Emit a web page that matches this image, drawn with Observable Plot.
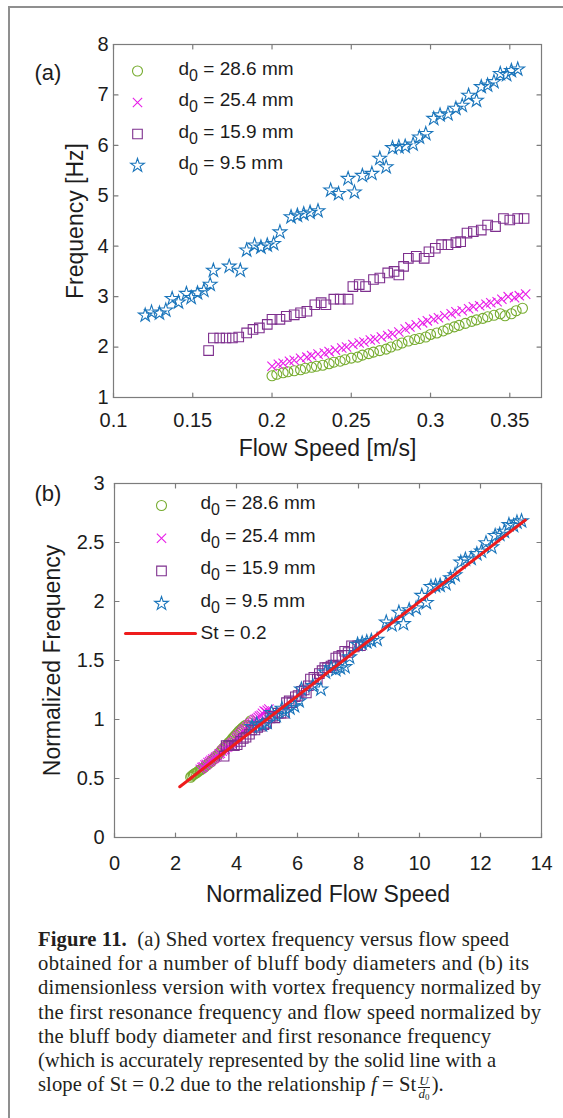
<!DOCTYPE html>
<html><head><meta charset="utf-8">
<script src="https://cdn.jsdelivr.net/npm/d3@7"></script>
<script src="https://cdn.jsdelivr.net/npm/@observablehq/plot@0.6"></script>
<style>
html,body{margin:0;padding:0;background:#fff;}
#page{position:relative;width:563px;height:1118px;overflow:hidden;background:#fff;}
#border{position:absolute;left:8px;top:6px;right:-10px;bottom:-10px;border-left:2px solid #8f8f8f;border-top:2px solid #8f8f8f;pointer-events:none;}
#panelA{position:absolute;left:0;top:0;width:563px;}
#panelB{position:absolute;left:0;top:462px;width:563px;}
#caption{position:absolute;left:38px;top:927px;font-family:"Liberation Serif","DejaVu Serif",serif;font-size:20.6px;line-height:24.2px;color:#231f20;}
#caption div{white-space:nowrap;width:max-content;}
.frac{display:inline-block;vertical-align:-0.5em;text-align:center;font-size:13px;line-height:12px;margin:0 2px;letter-spacing:0;}
.frac .num{display:block;border-bottom:1px solid #231f20;padding:0 1px;}
.frac .den{display:block;}
.frac sub{font-size:9px;vertical-align:-2px;}
</style></head>
<body>
<div id="page">
  <div id="panelA"></div>
  <div id="panelB"></div>
  <div id="caption">
    <div><b>Figure 11.</b>&nbsp; (a) Shed vortex frequency versus flow speed</div>
    <div>obtained for a number of bluff body diameters and (b) its</div>
    <div>dimensionless version with vortex frequency normalized by</div>
    <div>the first resonance frequency and flow speed normalized by</div>
    <div>the bluff body diameter and first resonance frequency</div>
    <div>(which is accurately represented by the solid line with a</div>
    <div>slope of St = 0.2 due to the relationship <i>f</i> = St<span class="frac"><span class="num"><i>U</i></span><span class="den"><i>d</i><sub>0</sub></span></span>).</div>
  </div>
  <div id="border"></div>
</div>
<script>
// ---------- data ----------
const diametersMm = [28.6, 25.4, 15.9, 9.5];
const legendLabels = ["d0 = 28.6 mm", "d0 = 25.4 mm", "d0 = 15.9 mm", "d0 = 9.5 mm"];
const lineLabel = "St = 0.2";

// d0 = 28.6 mm (circles)
const circleSpeed = [0.200,0.203,0.207,0.210,0.214,0.218,0.221,0.225,0.228,0.232,0.236,0.239,0.243,0.246,0.250,0.254,0.257,0.261,0.264,0.268,0.272,0.275,0.279,0.282,0.286,0.290,0.293,0.297,0.300,0.304,0.308,0.311,0.315,0.318,0.322,0.326,0.329,0.333,0.336,0.340,0.344,0.347,0.351,0.354,0.358];
const circleFreq  = [1.43,1.46,1.49,1.51,1.53,1.55,1.58,1.60,1.62,1.64,1.67,1.70,1.72,1.75,1.78,1.80,1.84,1.87,1.90,1.93,1.96,2.00,2.04,2.08,2.12,2.15,2.17,2.20,2.25,2.28,2.32,2.36,2.40,2.43,2.47,2.51,2.54,2.57,2.60,2.63,2.66,2.62,2.66,2.72,2.77];
// d0 = 25.4 mm (crosses)
const crossSpeed = [0.200,0.204,0.207,0.211,0.214,0.218,0.222,0.225,0.229,0.233,0.236,0.240,0.244,0.247,0.251,0.255,0.258,0.262,0.265,0.269,0.273,0.276,0.280,0.284,0.287,0.291,0.295,0.298,0.302,0.305,0.309,0.313,0.316,0.320,0.324,0.327,0.331,0.335,0.338,0.342,0.345,0.349,0.353,0.356,0.360];
const crossFreq  = [1.62,1.66,1.68,1.72,1.74,1.78,1.80,1.83,1.86,1.88,1.91,1.94,1.98,2.00,2.05,2.08,2.10,2.14,2.16,2.20,2.23,2.26,2.30,2.36,2.40,2.44,2.48,2.52,2.55,2.58,2.62,2.66,2.70,2.72,2.76,2.80,2.82,2.85,2.88,2.90,2.95,3.00,2.98,3.02,3.05];
// d0 = 15.9 mm (squares)
const squareSpeed = [0.160,0.163,0.167,0.171,0.175,0.179,0.184,0.188,0.192,0.197,0.200,0.205,0.209,0.214,0.218,0.222,0.227,0.231,0.234,0.239,0.243,0.248,0.251,0.255,0.259,0.264,0.268,0.273,0.277,0.280,0.283,0.286,0.291,0.296,0.299,0.303,0.307,0.311,0.316,0.319,0.323,0.327,0.332,0.336,0.341,0.346,0.350,0.355,0.359];
const squareFreq  = [1.93,2.18,2.18,2.18,2.18,2.20,2.28,2.35,2.38,2.45,2.55,2.55,2.61,2.64,2.68,2.71,2.84,2.88,2.84,2.95,2.95,2.95,3.20,3.24,3.20,3.34,3.37,3.47,3.50,3.43,3.60,3.76,3.80,3.76,3.89,3.96,4.03,4.03,4.07,4.09,4.26,4.29,4.32,4.42,4.39,4.55,4.52,4.55,4.55];
// d0 = 9.5 mm (stars)
const starSpeed = [0.120,0.124,0.129,0.133,0.137,0.141,0.146,0.149,0.153,0.157,0.161,0.163,0.173,0.180,0.184,0.189,0.193,0.197,0.201,0.205,0.212,0.216,0.220,0.224,0.229,0.237,0.242,0.248,0.252,0.257,0.263,0.268,0.272,0.276,0.280,0.284,0.289,0.293,0.297,0.302,0.306,0.311,0.316,0.320,0.324,0.329,0.332,0.336,0.340,0.344,0.348,0.351,0.355];
const starFreq  = [2.63,2.69,2.67,2.73,2.96,2.89,3.06,2.98,3.07,3.12,3.24,3.52,3.60,3.52,3.92,4.02,3.98,4.02,4.05,4.28,4.58,4.61,4.64,4.67,4.70,5.11,5.04,5.34,5.07,5.40,5.44,5.74,5.57,5.95,5.97,5.98,6.02,6.16,6.23,6.53,6.60,6.62,6.73,6.79,6.99,6.89,7.16,7.19,7.26,7.42,7.40,7.48,7.51];

// first resonance frequency used for normalisation in panel (b)
const firstResonanceHz = 2.8;
// St = 0.2 line end points (panel b)
const stLineSpeed = [2.14, 13.47];
const stLineFreq  = [0.43, 2.69];

// ticks
const speedTicksA = [0.1, 0.15, 0.2, 0.25, 0.3, 0.35];
const freqTicksA  = [1, 2, 3, 4, 5, 6, 7, 8];
const speedTicksB = [0, 2, 4, 6, 8, 10, 12, 14];
const freqTicksB  = [0, 0.5, 1, 1.5, 2, 2.5, 3];

// ---------- styling ----------
const FONT = "'Liberation Sans', Arial, Helvetica, sans-serif";
const AXIS = "#7c7c7c";
const TEXT = "#1c1c1c";
const RED = "#ee1c1c";
const seriesStyle = [
  {symbol: "circle", color: "#77AC30", r: 5},
  {symbol: "times",  color: "#E81EE8", r: 4.3},
  {symbol: "square", color: "#7E2F8E", r: 5.4},
  {symbol: "star",   color: "#1a75bb", r: 4.3}
];
const speeds = [circleSpeed, crossSpeed, squareSpeed, starSpeed];
const freqs  = [circleFreq, crossFreq, squareFreq, starFreq];

const seriesRows = speeds.map((sp, i) => sp.map((s, j) => {
  const f = freqs[i][j];
  const d0 = diametersMm[i] / 1000;
  return {speed: s, freq: f, nSpeed: s / (d0 * firstResonanceHz), nFreq: f / firstResonanceHz};
}));
const stRows = stLineSpeed.map((x, i) => ({x, y: stLineFreq[i]}));

const tickShape = {draw(ctx, l) { ctx.moveTo(0, 0); ctx.lineTo(0, -l); }};
function boxTicks(xTicks, yTicks) {
  const o = {stroke: AXIS, strokeWidth: 1.2, length: 4.5, anchor: "start", shape: tickShape};
  return [
    Plot.vector(xTicks, {...o, x: d => d, frameAnchor: "bottom", rotate: 0}),
    Plot.vector(xTicks, {...o, x: d => d, frameAnchor: "top", rotate: 180}),
    Plot.vector(yTicks, {...o, y: d => d, frameAnchor: "left", rotate: 90}),
    Plot.vector(yTicks, {...o, y: d => d, frameAnchor: "right", rotate: -90})
  ];
}
function dataMarks(xKey, yKey) {
  return seriesRows.map((rows, i) => Plot.dot(rows, {
    x: xKey, y: yKey, symbol: seriesStyle[i].symbol, r: seriesStyle[i].r,
    stroke: seriesStyle[i].color, fill: "none", strokeWidth: 1.1
  }));
}
function label(str, opts) {
  return Plot.text([str], {text: d => d, fill: TEXT, textAnchor: "middle", lineAnchor: "middle", ...opts});
}
function legendMarks(mx, tx, y0, step) {
  const out = [];
  legendLabels.forEach((lab, i) => {
    out.push(Plot.dot([lab], {frameAnchor: "top-left", dx: mx, dy: y0 + i * step,
      symbol: seriesStyle[i].symbol, r: seriesStyle[i].r, stroke: seriesStyle[i].color, fill: "none", strokeWidth: 1.1}));
    out.push(label(lab, {frameAnchor: "top-left", dx: tx, dy: y0 - 2.5 + i * step, textAnchor: "start", fontSize: 19}));
  });
  return out;
}
function subscripts(svg) {
  const NS = "http://www.w3.org/2000/svg";
  svg.querySelectorAll("text").forEach(t => {
    const m = (t.textContent || "").match(/^d0( = .*)$/);
    if (!m || t.children.length) return;
    t.textContent = "";
    const a = document.createElementNS(NS, "tspan"); a.textContent = "d";
    const b = document.createElementNS(NS, "tspan"); b.textContent = "0";
    b.setAttribute("dy", "6"); b.setAttribute("font-size", "16");
    const c = document.createElementNS(NS, "tspan"); c.textContent = m[1];
    c.setAttribute("dy", "-6");
    t.append(a, b, c);
  });
  return svg;
}
const baseStyle = {fontFamily: FONT, fontSize: "20px", color: TEXT, background: "transparent"};

// ---------- panel (a) ----------
const chartA = Plot.plot({
  width: 563, height: 462,
  marginLeft: 113, marginRight: 22, marginTop: 44, marginBottom: 65,
  style: baseStyle,
  x: {domain: [0.1, 0.37], ticks: speedTicksA, tickFormat: d => String(d), tickSize: 0, tickPadding: 15, label: null},
  y: {domain: [1, 8], ticks: freqTicksA, tickFormat: d => String(d), tickSize: 0, tickPadding: 5, label: null},
  marks: [
    ...dataMarks("speed", "freq"),
    Plot.frame({stroke: AXIS, strokeWidth: 1.2}),
    ...boxTicks(speedTicksA, freqTicksA),
    ...legendMarks(24, 65, 26.5, 31.5),
    label("(a)", {frameAnchor: "top-left", dx: -79, dy: 28, textAnchor: "start", fontSize: 22}),
    label("Flow Speed [m/s]", {frameAnchor: "bottom", dy: 51, fontSize: 23}),
    label("Frequency [Hz]", {frameAnchor: "left", dx: -38, rotate: -90, fontSize: 23})
  ]
});
document.getElementById("panelA").append(subscripts(chartA));

// ---------- panel (b) ----------
const chartB = Plot.plot({
  width: 563, height: 448,
  marginLeft: 114, marginRight: 22, marginTop: 21, marginBottom: 73,
  style: baseStyle,
  x: {domain: [0, 14], ticks: speedTicksB, tickFormat: d => String(d), tickSize: 0, tickPadding: 18, label: null},
  y: {domain: [0, 3], ticks: freqTicksB, tickFormat: d => String(d), tickSize: 0, tickPadding: 10, label: null},
  marks: [
    ...dataMarks("nSpeed", "nFreq"),
    Plot.line(stRows, {x: "x", y: "y", stroke: RED, strokeWidth: 3}),
    Plot.frame({stroke: AXIS, strokeWidth: 1.2}),
    ...boxTicks(speedTicksB, freqTicksB),
    ...legendMarks(47, 86, 22, 32.7),
    Plot.vector([lineLabel], {frameAnchor: "top-left", dx: 11, dy: 150, rotate: 90, length: 70, anchor: "start",
      shape: tickShape, stroke: RED, strokeWidth: 3}),
    label(lineLabel, {frameAnchor: "top-left", dx: 86, dy: 149, textAnchor: "start", fontSize: 19}),
    label("(b)", {frameAnchor: "top-left", dx: -80, dy: 10, textAnchor: "start", fontSize: 22}),
    label("Normalized Flow Speed", {frameAnchor: "bottom", dy: 57, fontSize: 23}),
    label("Normalized Frequency", {frameAnchor: "left", dx: -62, rotate: -90, fontSize: 23})
  ]
});
document.getElementById("panelB").append(subscripts(chartB));

// ---------- caption: stretch each line to the width it has in the print ----------
const captionLineWidths = [471, 491, 503, 503, 453, 458, 406];
document.querySelectorAll("#caption > div").forEach((div, i) => {
  const w = div.getBoundingClientRect().width;
  const n = div.textContent.replace(/\s+$/, "").length;
  if (n > 1) div.style.letterSpacing = ((captionLineWidths[i] - w) / (n - 1)).toFixed(3) + "px";
});
</script>
</body></html>
